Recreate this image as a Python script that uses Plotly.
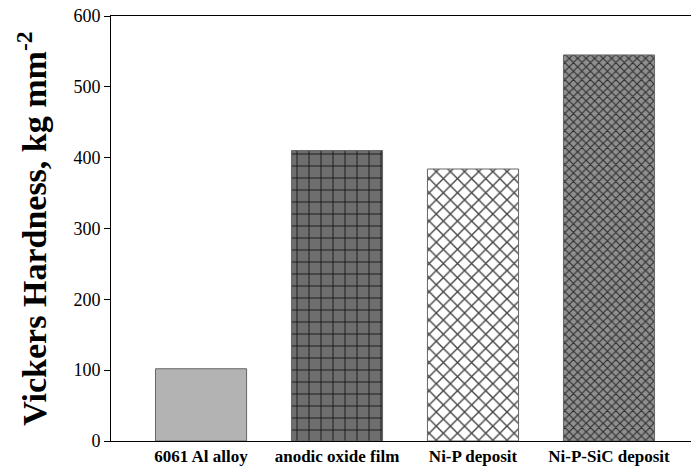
import plotly.graph_objects as go

categories = ["6061 Al alloy", "anodic oxide film", "Ni-P deposit", "Ni-P-SiC deposit"]
hardness = [102, 410, 384, 545]
y_ticks = [0, 100, 200, 300, 400, 500, 600]

fills = ["#b3b3b3", "#6e6e6e", "#ffffff", "#8f8f8f"]
shapes = ["", "+", "x", "x"]
fgs = ["#b3b3b3", "#111111", "#444444", "#2e2e2e"]
sizes = [8, 12, 10, 6]
solid = [0.2, 0.14, 0.26, 0.35]

fig = go.Figure()
for i, (c, v) in enumerate(zip(categories, hardness)):
    fig.add_trace(go.Bar(
        x=[c], y=[v], width=0.67,
        marker=dict(
            color=fills[i],
            line=dict(color="#666666", width=1),
            pattern=dict(shape=shapes[i], fgcolor=fgs[i], bgcolor=fills[i],
                         size=sizes[i], solidity=solid[i], fillmode="replace"),
        ),
        showlegend=False,
    ))

fig.update_layout(
    width=691, height=466,
    margin=dict(l=111, r=0, t=16, b=25),
    plot_bgcolor="white", paper_bgcolor="white",
    font=dict(family="Liberation Serif", color="black"),
    xaxis=dict(
        range=[-0.662, 3.603], automargin=False,
        showline=True, linecolor="black", linewidth=1, mirror=True,
        ticks="", showgrid=False,
        tickfont=dict(size=17, family="Liberation Serif", weight="bold"),
        ticklabelstandoff=0,
    ),
    yaxis=dict(
        range=[0, 600], tickvals=y_ticks, automargin=False,
        showline=True, linecolor="black", linewidth=1,
        ticks="outside", ticklen=6, tickcolor="black",
        showgrid=False, zeroline=False,
        tickfont=dict(size=18, family="Liberation Serif"),
        title=dict(text="<b>Vickers Hardness, kg mm<sup>-2</sup></b>",
                   font=dict(size=34, family="Liberation Serif"), standoff=16),
    ),
)
fig.update_xaxes(categoryorder="array", categoryarray=categories)

fig.write_html("out.html",
               config={"displayModeBar": False},
               post_script="document.body.style.margin='0';document.body.style.overflow='hidden';")
